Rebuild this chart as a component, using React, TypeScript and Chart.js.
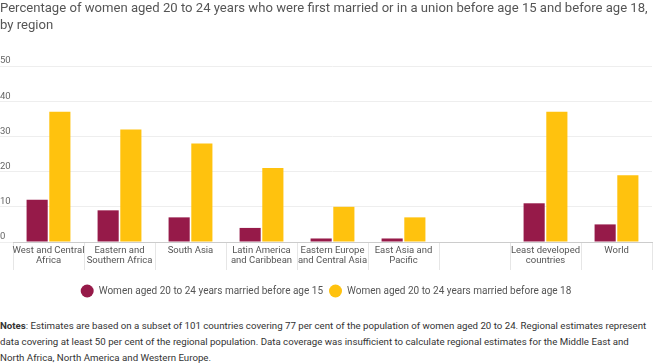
import React, { useEffect, useRef } from "react";
import { Chart, registerables } from "chart.js";

Chart.register(...registerables);

const categories: (string | string[])[] = [
  ["West and Central", "Africa"],
  ["Eastern and", "Southern Africa"],
  ["South Asia"],
  ["Latin America", "and Caribbean"],
  ["Eastern Europe", "and Central Asia"],
  ["East Asia and", "Pacific"],
  "",
  ["Least developed", "countries"],
  ["World"],
];

const before15: (number | null)[] = [12, 9, 7, 4, 1, 1, null, 11, 5];
const before18: (number | null)[] = [37, 32, 28, 21, 10, 7, null, 37, 19];

const seriesNames = [
  "Women aged 20 to 24 years married before age 15",
  "Women aged 20 to 24 years married before age 18",
];

const titleLines = [
  "Percentage of women aged 20 to 24 years who were first married or in a union before age 15 and before age 18,",
  "by region",
];

const yTicks = { min: 0, max: 50, step: 10 };

const MAROON = "#961A49";
const YELLOW = "#FFC20E";
const FONT = "Roboto, 'Noto Sans', sans-serif";

export default function App() {
  const ref = useRef<HTMLCanvasElement | null>(null);

  useEffect(() => {
    if (!ref.current) return;
    const chart = new Chart(ref.current, {
      type: "bar",
      data: {
        labels: categories,
        datasets: [
          {
            label: seriesNames[0],
            data: before15,
            backgroundColor: MAROON,
            borderWidth: 0,
            categoryPercentage: 0.64,
            barPercentage: 0.93,
          },
          {
            label: seriesNames[1],
            data: before18,
            backgroundColor: YELLOW,
            borderWidth: 0,
            categoryPercentage: 0.64,
            barPercentage: 0.93,
          },
        ],
      },
      options: {
        animation: false,
        responsive: false,
        maintainAspectRatio: false,
        layout: { padding: { left: 0, right: 1, top: 0, bottom: 0 } },
        plugins: {
          title: {
            display: true,
            text: titleLines,
            align: "start",
            color: "#555555",
            font: { family: FONT, size: 13.1, weight: "normal", lineHeight: 1.3 },
            padding: { top: 0, bottom: 32 },
          },
          legend: {
            position: "bottom",
            labels: {
              usePointStyle: true,
              pointStyle: "circle",
              pointStyleWidth: 13,
              boxHeight: 9.2,
              color: "#555555",
              font: { family: FONT, size: 10 },
              padding: 6,
            },
          },
          tooltip: { enabled: false },
        },
        scales: {
          x: {
            grid: {
              offset: true,
              drawOnChartArea: false,
              drawTicks: true,
              tickLength: 28,
              color: "#e6e6e6",
            },
            border: { display: true, color: "#cccccc" },
            ticks: {
              autoSkip: false,
              maxRotation: 0,
              minRotation: 0,
              color: "#555555",
              padding: -24,
              font: { family: FONT, size: 9.5, lineHeight: 1.05 },
            },
            afterFit: (scale: any) => {
              scale.height = 38;
            },
          },
          y: {
            min: yTicks.min,
            max: yTicks.max,
            ticks: {
              stepSize: yTicks.step,
              color: "#666666",
              crossAlign: "far",
              labelOffset: -5,
              padding: 0,
              font: { family: FONT, size: 9.5 },
            },
            grid: {
              color: "#eeeeee",
              tickLength: 13,
              tickColor: "#eeeeee",
            },
            border: { display: false },
            afterFit: (scale: any) => {
              scale.width = 13;
            },
          },
        },
      },
    });
    return () => chart.destroy();
  }, []);

  return (
    <div
      style={{
        position: "absolute",
        left: 0,
        top: 0,
        width: 653,
        height: 364,
        background: "#ffffff",
        fontFamily: FONT,
      }}
    >
      <canvas ref={ref} width={653} height={306} style={{ display: "block", width: 653, height: 306 }} />
      <div
        style={{
          position: "absolute",
          left: 0,
          top: 318,
          width: 653,
          fontSize: 9.7,
          lineHeight: "16px",
          color: "#333333",
          whiteSpace: "nowrap",
        }}
      >
        <b>Notes</b>: Estimates are based on a subset of 101 countries covering 77 per cent of the population of women aged 20 to 24. Regional estimates represent
        <br />
        data covering at least 50 per cent of the regional population. Data coverage was insufficient to calculate regional estimates for the Middle East and
        <br />
        North Africa, North America and Western Europe.
      </div>
    </div>
  );
}
